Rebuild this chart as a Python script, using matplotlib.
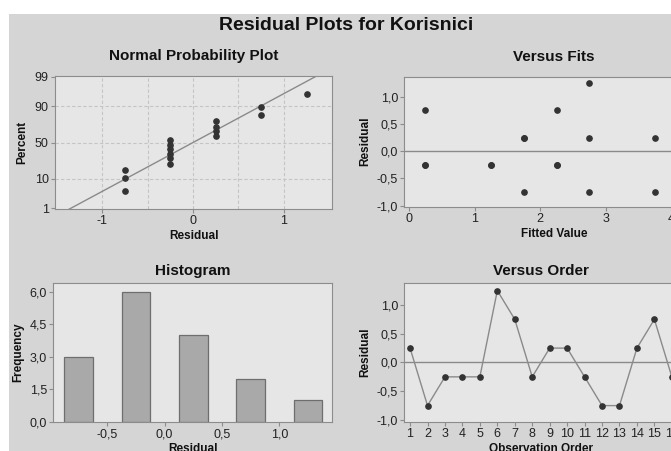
import matplotlib
matplotlib.use("Agg")
import matplotlib.pyplot as plt
import numpy as np
from statistics import NormalDist
from matplotlib.patches import Rectangle
from matplotlib.ticker import FuncFormatter

# data: residuals and fitted values by observation order
order = np.arange(1, 17)
residuals = [0.25, -0.75, -0.25, -0.25, -0.25, 1.25, 0.75, -0.25,
             0.25, 0.25, -0.25, -0.75, -0.75, 0.25, 0.75, -0.25]
fitted = [1.75, 1.75, 0.25, 1.25, 2.25, 2.75, 0.25, 0.25,
          2.75, 3.75, 1.25, 2.75, 3.75, 1.75, 2.25, 2.25]
hist_centers = [-0.75, -0.25, 0.25, 0.75, 1.25]
pct_ticks = [1, 10, 50, 90, 99]

plt.rcParams['font.family'] = ['Liberation Sans', 'DejaVu Sans']
plt.rcParams['axes.unicode_minus'] = False

W, H = 671, 451
bg = '#d5d5d5'
face = '#e6e6e6'
spine = '#8c8c8c'
dot = '#333333'
txt = '#222222'


def pos(x0, y0, x1, y1):
    return [x0 / W, 1 - y1 / H, (x1 - x0) / W, (y1 - y0) / H]


def comma(v, p):
    return ('%.1f' % v).replace('.', ',')


def style(ax):
    ax.set_facecolor(face)
    for s in ax.spines.values():
        s.set_color(spine)
    ax.tick_params(colors=spine, labelcolor=txt, labelsize=9, length=3, pad=1.5)


fig = plt.figure(figsize=(W / 100, H / 100), dpi=100, facecolor='white')
fig.add_artist(Rectangle((9 / W, 0), 1, 1 - 14 / H, transform=fig.transFigure,
                         facecolor=bg, edgecolor='none', zorder=-5))
fig.text(346 / W, 1 - 25 / H, 'Residual Plots for Korisnici', ha='center', va='center',
         fontsize=14, fontweight='bold', color='#111111')

# Normal probability plot
ax1 = fig.add_axes(pos(55, 76, 332, 209))
style(ax1)
res_sorted = np.sort(residuals)
n = len(res_sorted)
nd = NormalDist()
z = [nd.inv_cdf((i - 0.3) / (n + 0.4)) for i in range(1, n + 1)]
mu = np.mean(residuals)
sd = np.std(residuals, ddof=1)
zl = np.array([-3, 3])
for gx in [-1, -0.5, 0, 0.5, 1]:
    ax1.axvline(gx, color='#c4c4c4', lw=0.8, ls=(0, (3, 2)), zorder=0)
for gp in [10, 50, 90]:
    ax1.axhline(nd.inv_cdf(gp / 100), color='#c4c4c4', lw=0.8, ls=(0, (3, 2)), zorder=0)
ax1.plot(mu + sd * zl, zl, color='#8a8a8a', lw=1, zorder=2)
ax1.plot(res_sorted, z, 'o', color=dot, ms=3.8, zorder=3)
ax1.set_xlim(-1.52, 1.53)
ax1.set_ylim(nd.inv_cdf(0.01) - 0.03, nd.inv_cdf(0.99) + 0.03)
ax1.set_xticks([-1, 0, 1])
ax1.set_xticklabels(['-1', '0', '1'])
ax1.set_yticks([nd.inv_cdf(p / 100) for p in pct_ticks])
ax1.set_yticklabels([str(p) for p in pct_ticks])
ax1.set_title('Normal Probability Plot', fontsize=11, fontweight='bold', color='#111111', pad=11.5)
ax1.set_xlabel('Residual', fontsize=8.5, fontweight='bold', color='#111111', labelpad=2)
ax1.set_ylabel('Percent', fontsize=8.5, fontweight='bold', color='#111111', labelpad=5)

# Versus fits
ax2 = fig.add_axes(pos(404.3, 76.7, 704, 206.7))
style(ax2)
ax2.axhline(0, color='#8a8a8a', lw=1, zorder=1)
ax2.plot(fitted, residuals, 'o', color=dot, ms=3.8, zorder=3)
ax2.set_xlim(-0.07, 4.496)
ax2.set_ylim(-1.02, 1.37)
ax2.set_xticks([0, 1, 2, 3, 4])
ax2.set_yticks([-1, -0.5, 0, 0.5, 1])
ax2.yaxis.set_major_formatter(FuncFormatter(comma))
ax2.set_title('Versus Fits', fontsize=11, fontweight='bold', color='#111111', pad=11.5)
ax2.set_xlabel('Fitted Value', fontsize=8.5, fontweight='bold', color='#111111', labelpad=2)
ax2.set_ylabel('Residual', fontsize=8.5, fontweight='bold', color='#111111', labelpad=4)

# Histogram
ax3 = fig.add_axes(pos(53.3, 283.3, 332.3, 422))
style(ax3)
edges = np.array(hist_centers + [hist_centers[-1] + 0.5]) - 0.25
counts, _ = np.histogram(residuals, bins=edges)
ax3.bar(hist_centers, counts, width=0.25, color='#a9a9a9', edgecolor='#6e6e6e', lw=0.9, zorder=2)
ax3.set_xlim(-0.971, 1.462)
ax3.set_ylim(0, 6.39)
ax3.set_xticks([-0.5, 0, 0.5, 1.0])
ax3.set_yticks([0, 1.5, 3, 4.5, 6])
ax3.xaxis.set_major_formatter(FuncFormatter(comma))
ax3.yaxis.set_major_formatter(FuncFormatter(comma))
ax3.set_title('Histogram', fontsize=11, fontweight='bold', color='#111111', pad=6)
ax3.set_xlabel('Residual', fontsize=8.5, fontweight='bold', color='#111111', labelpad=2)
ax3.set_ylabel('Frequency', fontsize=8.5, fontweight='bold', color='#111111', labelpad=4)

# Versus order
ax4 = fig.add_axes(pos(404.3, 283.3, 677.6, 421.7))
style(ax4)
ax4.axhline(0, color='#8a8a8a', lw=1, zorder=1)
ax4.plot(order, residuals, '-', color='#8a8a8a', lw=1, zorder=2)
ax4.plot(order, residuals, 'o', color=dot, ms=3.8, zorder=3)
ax4.set_xlim(0.67, 16.33)
ax4.set_ylim(-1.03, 1.377)
ax4.set_xticks(order)
ax4.set_yticks([-1, -0.5, 0, 0.5, 1])
ax4.yaxis.set_major_formatter(FuncFormatter(comma))
ax4.set_title('Versus Order', fontsize=11, fontweight='bold', color='#111111', pad=6)
ax4.set_xlabel('Observation Order', fontsize=8.5, fontweight='bold', color='#111111', labelpad=2)
ax4.set_ylabel('Residual', fontsize=8.5, fontweight='bold', color='#111111', labelpad=4)

fig.savefig('out.png', dpi=100, facecolor='white')
